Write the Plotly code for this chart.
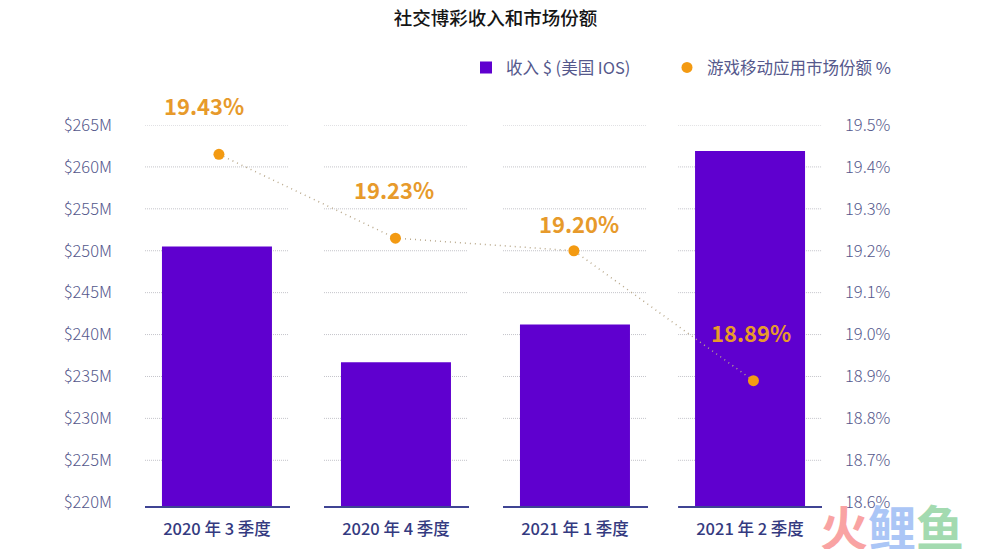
import plotly.graph_objects as go

# ---- data ----
quarters = ["2020 年 3 季度", "2020 年 4 季度", "2021 年 1 季度", "2021 年 2 季度"]
revenue_musd = [250.5, 236.7, 241.2, 261.9]
share_pct = [19.43, 19.23, 19.20, 18.89]
share_labels = ["19.43%", "19.23%", "19.20%", "18.89%"]
left_ticks = [220, 225, 230, 235, 240, 245, 250, 255, 260, 265]
right_ticks = [18.6, 18.7, 18.8, 18.9, 19.0, 19.1, 19.2, 19.3, 19.4, 19.5]
title_text = "社交博彩收入和市场份额"
series_bar = "收入 $ (美国 IOS)"
series_dot = "游戏移动应用市场份额 %"

# ---- layout helpers ----
bar_pos = [0, 1, 2, 2.978]
dot_pos = [0.011, 0.997, 1.994, 2.997]
label_shift = [(-15, 49), (-1, 49), (5, 28), (-2, 49)]
half_seg = 0.402
PURPLE = "#5f00cf"
ORANGE = "#f39a12"
LABEL = "#e79a2b"
AXIS_TXT = "#55588c"
FONT = "Noto Sans CJK SC"

fig = go.Figure()
fig.add_trace(go.Bar(x=bar_pos, y=revenue_musd, name=series_bar, width=0.6145,
                     marker=dict(color=PURPLE, line=dict(width=0)), yaxis="y"))
fig.add_trace(go.Scatter(x=dot_pos, y=share_pct, mode="lines", yaxis="y2", showlegend=False,
                         line=dict(color="#b9a98c", width=1.5, dash="1px,4px")))
fig.add_trace(go.Scatter(x=dot_pos, y=share_pct, mode="markers", name=series_dot, yaxis="y2",
                         legend="legend2", marker=dict(color=ORANGE, size=11)))

shapes = []
for p in bar_pos:
    for t in left_ticks[1:]:
        shapes.append(dict(type="line", xref="x", yref="y", layer="below",
                           x0=p - half_seg, x1=p + half_seg, y0=t, y1=t,
                           line=dict(color="#c4c4ca", width=1, dash="1px,1px")))
    shapes.append(dict(type="line", xref="x", yref="paper", layer="above",
                       x0=p - half_seg, x1=p + half_seg + 0.006, y0=0, y1=0,
                       line=dict(color="#3f4493", width=2)))

annotations = [
    dict(x=x, y=v, xref="x", yref="y2", text=f"<b>{s}</b>", showarrow=False,
         xshift=sh[0], yshift=sh[1], font=dict(family=FONT, size=22, color=LABEL))
    for x, v, s, sh in zip(dot_pos, share_pct, share_labels, label_shift)
]
annotations.append(dict(
    x=(966 - 145) / 677, y=(507.3 - 525.5) / 382.8, xref="paper", yref="paper", showarrow=False,
    xanchor="right", yanchor="middle",
    text='<b><span style="color:#f9a3a3">火</span><span style="color:#abc6f6">鲤</span>'
         '<span style="color:#a3dab0">鱼</span></b>',
    font=dict(family=FONT, size=48)))

legend_common = dict(orientation="h", xanchor="left", y=1.15, yanchor="middle",
                     font=dict(family=FONT, size=16.5, color=AXIS_TXT),
                     bgcolor="rgba(0,0,0,0)")

fig.update_layout(
    width=982, height=541,
    margin=dict(l=137, r=168, t=116.5, b=41.7, pad=0),
    paper_bgcolor="white", plot_bgcolor="white",
    font=dict(family=FONT, color=AXIS_TXT),
    title=dict(text=title_text, x=(495.5 - 8) / 982, xanchor="center", xref="container",
               y=1 - 11 / 541, yanchor="middle",
               font=dict(family=FONT, size=18.5, color="#151515", weight=500)),
    showlegend=True,
    legend=dict(x=(466 - 145) / 677, **legend_common),
    legend2=dict(x=(667 - 145) / 677, **legend_common),
    xaxis=dict(range=[-0.402, 3.38], tickmode="array", tickvals=bar_pos, ticktext=quarters,
               showgrid=False, zeroline=False, showline=False,
               ticks="outside", ticklen=7, tickcolor="rgba(0,0,0,0)", automargin=False,
               tickfont=dict(family=FONT, size=16.5, color="#343a80", weight=500)),
    yaxis=dict(range=[219.43, 265], tickmode="array", tickvals=left_ticks,
               ticktext=[f"${t}M" for t in left_ticks], showgrid=False, zeroline=False,
               showline=False, ticks="", ticklabelstandoff=32,
               tickfont=dict(family=FONT, size=16.5, color=AXIS_TXT, weight=300)),
    yaxis2=dict(range=[18.5886, 19.5], overlaying="y", side="right", tickmode="array",
                tickvals=right_ticks, ticktext=[f"{t:.1f}%" for t in right_ticks],
                showgrid=False, zeroline=False, showline=False, ticks="", ticklabelstandoff=22,
                tickfont=dict(family=FONT, size=16.5, color=AXIS_TXT, weight=300)),
    shapes=shapes, annotations=annotations,
)
fig.write_html("out.html")
